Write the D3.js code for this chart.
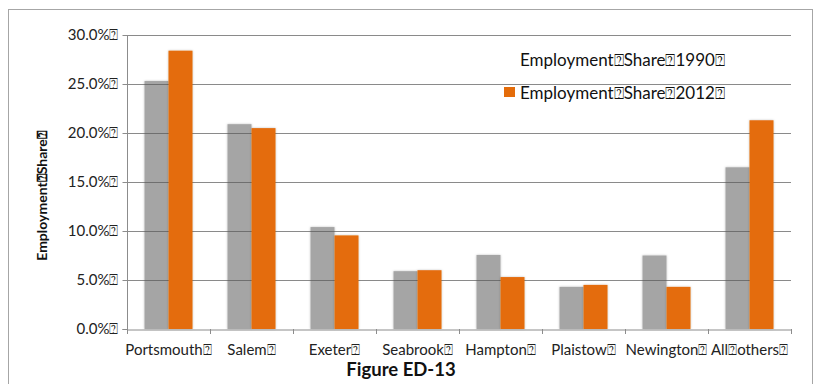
<!DOCTYPE html>
<html>
<head>
<meta charset="utf-8">
<script src="https://cdn.jsdelivr.net/npm/d3@7/dist/d3.min.js"></script>
<style>
  html, body { margin: 0; padding: 0; background: #fff; }
  svg { display: block; font-family: Lato, "Open Sans", sans-serif; }
</style>
</head>
<body>
<svg id="chart" width="817" height="384"></svg>
<script>
// Employment share by town, 1990 vs 2012
const Q = "\u2370"; // stray box glyph carried over from the source labels
const towns = ["Portsmouth", "Salem", "Exeter", "Seabrook", "Hampton", "Plaistow", "Newington", "All" + Q + "others"];
const share1990 = [25.3, 20.9, 10.4, 5.9, 7.55, 4.3, 7.5, 16.5];
const share2012 = [28.4, 20.5, 9.55, 6.0, 5.3, 4.5, 4.3, 21.3];
const yTicks = [0, 5, 10, 15, 20, 25, 30];
const seriesNames = ["Employment" + Q + "Share" + Q + "1990" + Q, "Employment" + Q + "Share" + Q + "2012" + Q];

const svg = d3.select("#chart");
const plot = { left: 127, right: 791, top: 35, bottom: 329 };

const x = d3.scaleBand().domain(towns).range([plot.left, plot.right]);
const y = d3.scaleLinear().domain([0, 30]).range([plot.bottom, plot.top]);
const barW = 24;

// outer chart frame (bottom edge lies below the visible area)
svg.append("rect")
  .attr("x", 8.5).attr("y", 9.5).attr("width", 804).attr("height", 400)
  .attr("fill", "none").attr("stroke", "#a6a6a6").attr("stroke-width", 1);

// soft edge around the bars
const defs = svg.append("defs");
const f = defs.append("filter").attr("id", "soft").attr("x", "-20%").attr("y", "-5%").attr("width", "140%").attr("height", "110%");
f.append("feGaussianBlur").attr("in", "SourceAlpha").attr("stdDeviation", 1.2).attr("result", "b");
f.append("feFlood").attr("flood-color", "#000").attr("flood-opacity", 0.25);
f.append("feComposite").attr("in2", "b").attr("operator", "in").attr("result", "s");
const m = f.append("feMerge");
m.append("feMergeNode").attr("in", "s");
m.append("feMergeNode").attr("in", "SourceGraphic");

// 1990 bars
svg.append("g").selectAll("rect").data(towns).join("rect")
  .attr("x", d => x(d) + x.bandwidth() / 2 - barW)
  .attr("y", (d, i) => y(share1990[i]))
  .attr("width", barW)
  .attr("height", (d, i) => y(0) - y(share1990[i]))
  .attr("fill", "#a5a5a5")
  .attr("filter", "url(#soft)");

// gridlines
svg.append("g").selectAll("line").data(yTicks.filter(t => t > 0)).join("line")
  .attr("x1", plot.left).attr("x2", plot.right)
  .attr("y1", d => Math.round(y(d)) + 0.5).attr("y2", d => Math.round(y(d)) + 0.5)
  .attr("stroke", "#595959").attr("stroke-opacity", 0.7).attr("stroke-width", 1.2);

// 2012 bars
svg.append("g").selectAll("rect").data(towns).join("rect")
  .attr("x", d => x(d) + x.bandwidth() / 2)
  .attr("y", (d, i) => y(share2012[i]))
  .attr("width", barW)
  .attr("height", (d, i) => y(0) - y(share2012[i]))
  .attr("fill", "#e46c0a")
  .attr("filter", "url(#soft)");

// y axis
const yAxis = svg.append("g")
  .attr("transform", `translate(${plot.left + 0.5},0)`)
  .call(d3.axisLeft(y).tickValues(yTicks).tickSize(5).tickPadding(4)
    .tickFormat(d => d.toFixed(1) + "%" + Q));
yAxis.select(".domain").attr("stroke", "#8c8c8c").attr("d", `M-5,${plot.bottom + 0.5}H0V${plot.top}`);
yAxis.selectAll(".tick line").attr("stroke", "#8c8c8c");
yAxis.selectAll("text").attr("fill", "#222").style("font-size", "15px").style("font-family", "Lato, sans-serif");

// x axis
const xAxis = svg.append("g")
  .attr("transform", `translate(0,${plot.bottom + 0.5})`)
  .call(d3.axisBottom(x).tickSize(0).tickPadding(15).tickFormat(d => d + Q));
xAxis.select(".domain").attr("stroke", "#8c8c8c");
xAxis.selectAll("text").attr("fill", "#222").style("font-size", "15px").style("font-family", "Lato, sans-serif");
// category boundary ticks
svg.append("g").selectAll("line").data(towns.concat(["end"])).join("line")
  .attr("x1", (d, i) => Math.round(plot.left + i * x.bandwidth()) + 0.5)
  .attr("x2", (d, i) => Math.round(plot.left + i * x.bandwidth()) + 0.5)
  .attr("y1", plot.bottom).attr("y2", plot.bottom + 5)
  .attr("stroke", "#8c8c8c");

// y axis title
svg.append("text")
  .attr("transform", "translate(47,196) rotate(-90)")
  .attr("text-anchor", "middle")
  .style("font-size", "14px").style("font-weight", "bold")
  .attr("fill", "#111")
  .text("Employment" + Q + "Share" + Q);

// legend
const legend = svg.append("g");
legend.append("text").attr("x", 520).attr("y", 66)
  .style("font-size", "17px").attr("fill", "#111").text(seriesNames[0]);
legend.append("rect").attr("x", 504).attr("y", 87).attr("width", 11).attr("height", 10).attr("fill", "#e46c0a");
legend.append("text").attr("x", 520).attr("y", 99)
  .style("font-size", "17px").attr("fill", "#111").text(seriesNames[1]);

// figure caption
svg.append("text")
  .attr("x", 401).attr("y", 376)
  .attr("text-anchor", "middle")
  .style("font-size", "18.5px").style("font-weight", "bold")
  .attr("fill", "#111")
  .text("Figure ED-13");
</script>
</body>
</html>
